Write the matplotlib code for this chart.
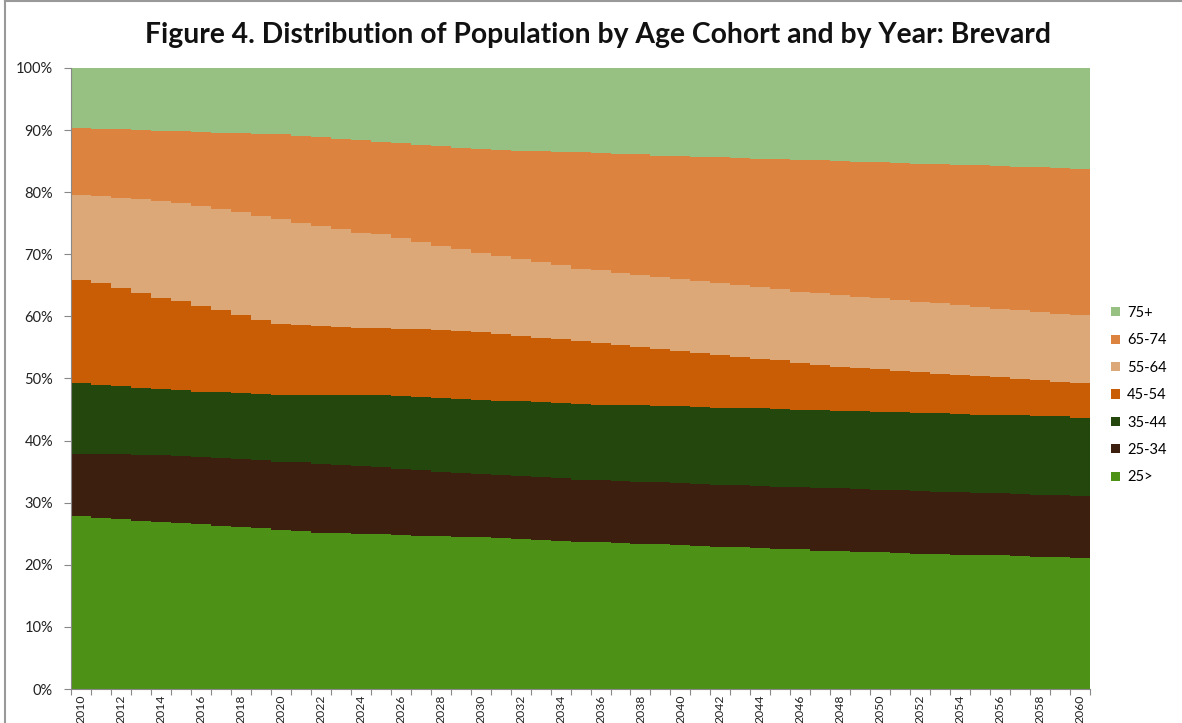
import numpy as np
import matplotlib
matplotlib.use("Agg")
import matplotlib.pyplot as plt
from matplotlib.patches import Patch
from matplotlib.lines import Line2D

plt.rcParams['font.family'] = ['Lato', 'DejaVu Sans']

# ── data (share of population, %) ─────────────────────────────────────────────
years = list(range(2010, 2061))

age_25_under = [27.8, 27.6, 27.4, 27.1, 26.9, 26.7, 26.5, 26.3, 26.1, 25.9,
                25.6, 25.4, 25.2, 25.1, 25.0, 24.9, 24.8, 24.7, 24.6, 24.5,
                24.4, 24.3, 24.1, 24.0, 23.9, 23.7, 23.6, 23.5, 23.4, 23.3,
                23.2, 23.0, 22.9, 22.8, 22.7, 22.6, 22.5, 22.3, 22.2, 22.1,
                22.0, 21.9, 21.8, 21.7, 21.6, 21.5, 21.5, 21.4, 21.3, 21.2,
                21.1]
age_25_34 = [10.0, 10.2, 10.4, 10.6, 10.8, 10.9, 10.9, 10.9, 10.9, 10.9,
             11.0, 11.1, 11.1, 11.0, 10.9, 10.8, 10.7, 10.6, 10.4, 10.3,
             10.2, 10.1, 10.2, 10.1, 10.0, 10.0, 10.0, 10.0, 10.0, 10.0,
             10.0, 10.0, 10.0, 10.0, 10.0, 10.0, 10.0, 10.1, 10.1, 10.1,
             10.1, 10.1, 10.1, 10.1, 10.1, 10.1, 10.0, 10.0, 10.0, 10.0,
             10.0]
age_35_44 = [11.5, 11.2, 11.0, 10.8, 10.6, 10.5, 10.5, 10.6, 10.7, 10.7,
             10.8, 10.9, 11.1, 11.3, 11.5, 11.7, 11.7, 11.7, 11.9, 11.9,
             12.0, 12.0, 12.0, 12.1, 12.1, 12.2, 12.2, 12.2, 12.3, 12.3,
             12.3, 12.4, 12.4, 12.4, 12.5, 12.5, 12.5, 12.5, 12.5, 12.5,
             12.5, 12.6, 12.6, 12.6, 12.6, 12.6, 12.6, 12.7, 12.7, 12.7,
             12.6]
age_45_54 = [16.6, 16.3, 15.7, 15.2, 14.7, 14.3, 13.7, 13.2, 12.5, 11.9,
             11.4, 11.2, 11.0, 10.9, 10.8, 10.7, 10.8, 10.9, 10.9, 11.0,
             10.9, 10.8, 10.6, 10.4, 10.3, 10.1, 9.9, 9.7, 9.4, 9.2,
             8.9, 8.7, 8.5, 8.3, 8.0, 7.8, 7.5, 7.3, 7.1, 7.0,
             6.9, 6.6, 6.5, 6.4, 6.3, 6.2, 6.1, 5.8, 5.7, 5.6,
             5.6]
age_55_64 = [13.7, 14.1, 14.6, 15.2, 15.6, 15.9, 16.2, 16.3, 16.6, 16.8,
             16.9, 16.5, 16.2, 15.7, 15.3, 15.1, 14.6, 14.1, 13.6, 13.1,
             12.7, 12.5, 12.3, 12.1, 11.9, 11.7, 11.7, 11.6, 11.6, 11.6,
             11.6, 11.6, 11.6, 11.5, 11.5, 11.5, 11.5, 11.5, 11.5, 11.4,
             11.4, 11.4, 11.3, 11.3, 11.2, 11.1, 11.0, 11.1, 11.0, 10.9,
             10.9]
age_65_74 = [10.7, 10.8, 11.0, 11.1, 11.3, 11.5, 11.9, 12.3, 12.7, 13.2,
             13.6, 14.0, 14.3, 14.6, 14.9, 14.9, 15.3, 15.6, 16.0, 16.3,
             16.7, 17.1, 17.5, 17.9, 18.3, 18.7, 18.9, 19.2, 19.4, 19.5,
             19.8, 20.0, 20.2, 20.5, 20.7, 20.9, 21.2, 21.4, 21.6, 21.8,
             21.9, 22.1, 22.3, 22.4, 22.6, 22.8, 23.0, 23.1, 23.3, 23.5,
             23.6]
age_75_plus = [9.7, 9.8, 9.9, 10.0, 10.1, 10.2, 10.3, 10.4, 10.5, 10.6,
               10.7, 10.9, 11.1, 11.4, 11.6, 11.9, 12.1, 12.4, 12.6, 12.9,
               13.1, 13.2, 13.3, 13.4, 13.5, 13.6, 13.7, 13.8, 13.9, 14.1,
               14.2, 14.3, 14.4, 14.5, 14.6, 14.7, 14.8, 14.9, 15.0, 15.1,
               15.2, 15.3, 15.4, 15.5, 15.6, 15.7, 15.8, 15.9, 16.0, 16.1,
               16.2]

cohorts = ["25>", "25-34", "35-44", "45-54", "55-64", "65-74", "75+"]
series = [age_25_under, age_25_34, age_35_44, age_45_54,
          age_55_64, age_65_74, age_75_plus]
colors = ["#4E9117", "#3D1F10", "#23470D", "#C95D06",
          "#DDA878", "#DC833F", "#97C083"]

# ── figure ────────────────────────────────────────────────────────────────────
fig = plt.figure(figsize=(11.82, 7.23), dpi=100)
ax = fig.add_axes([0.0601, 0.047, 0.8621, 0.859])

x = np.arange(len(years))
bottom = np.zeros(len(years))
for name, vals, col in zip(cohorts, series, colors):
    vals = np.array(vals) / 100.0
    ax.bar(x, vals, width=1.0, bottom=bottom, color=col, linewidth=0,
           label=name)
    bottom += vals

ax.set_xlim(-0.5, len(years) - 0.5)
ax.set_ylim(0, 1)

# y axis
ax.set_yticks(np.linspace(0, 1, 11))
ax.set_yticklabels([f"{int(round(v * 100))}%" for v in np.linspace(0, 1, 11)])
ax.tick_params(axis="y", length=5, color="#888888", pad=8,
               labelsize=10.5, labelcolor="#222222")

# x axis: ticks at category boundaries, labels every 2 years at centres
ax.set_xticks(np.arange(-0.5, len(years), 1.0))
ax.set_xticklabels([])
ax.tick_params(axis="x", which="major", length=4, color="#888888")
ax.set_xticks(x[::2], minor=True)
ax.set_xticklabels([str(y) for y in years[::2]], minor=True, rotation=90)
ax.tick_params(axis="x", which="minor", length=0, pad=4,
               labelsize=8.8, labelcolor="#222222")

for s in ["top", "right"]:
    ax.spines[s].set_visible(False)
for s in ["left", "bottom"]:
    ax.spines[s].set_color("#888888")

fig.text(0.506, 0.951,
         "Figure 4. Distribution of Population by Age Cohort and by Year: Brevard",
         ha="center", va="center", fontsize=20.3, fontweight="bold",
         color="#111111")

# legend, top entry first
handles = [Patch(facecolor=c, edgecolor="none") for c in colors[::-1]]
fig.legend(handles, cohorts[::-1], loc="upper left",
           bbox_to_anchor=(0.935, 0.585), frameon=False,
           fontsize=10.5, handlelength=0.6, handleheight=0.6,
           handletextpad=0.5, labelspacing=0.92, borderaxespad=0)

# chart border remnants
fig.add_artist(Line2D([0.0042, 0.0042], [0, 0.998], color="#999999",
                      linewidth=1.5, transform=fig.transFigure))
fig.add_artist(Line2D([0.0042, 1.0], [0.998, 0.998], color="#999999",
                      linewidth=1.5, transform=fig.transFigure))

fig.savefig("out.png", dpi=100)
